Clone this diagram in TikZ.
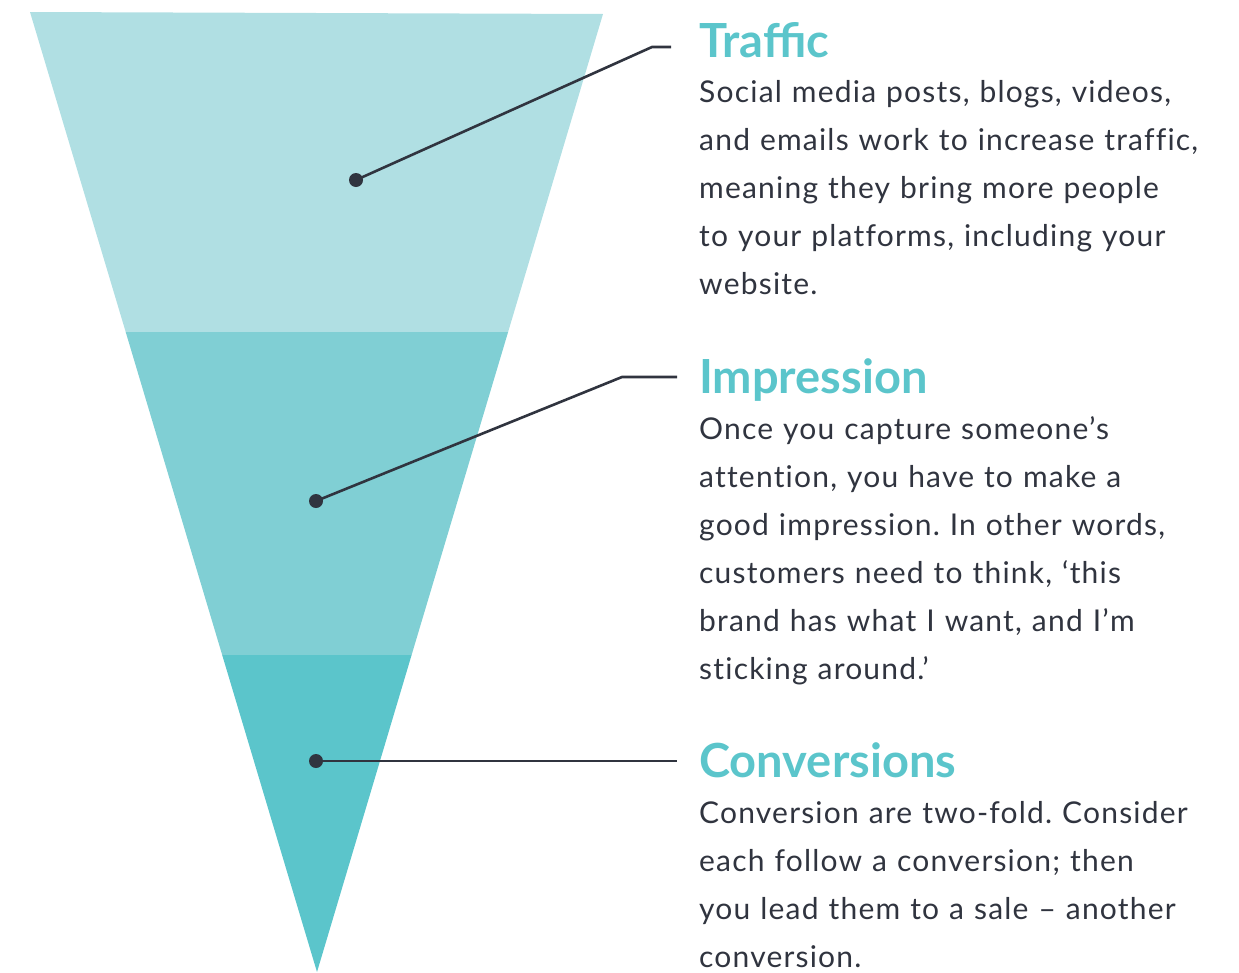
\documentclass[tikz,border=0pt]{standalone}
\usepackage{fontspec}
\setmainfont{Lato}
\newfontfamily\bodyfont{Lato}[LetterSpace=4, Ligatures=NoCommon]
\definecolor{bandtop}{HTML}{B0DFE3}
\definecolor{bandmid}{HTML}{80CFD4}
\definecolor{bandlow}{HTML}{5BC5CB}
\definecolor{headteal}{HTML}{5BC5CB}
\definecolor{inkdark}{HTML}{30343F}
\tikzset{
  heading/.style={anchor=base west, inner sep=0pt, text=headteal,
    font=\fontsize{47}{50}\selectfont\bfseries},
  bodytext/.style={anchor=base west, inner sep=0pt, text=inkdark,
    text width=560pt, align=left, font=\bodyfont\fontsize{30}{48}\selectfont\frenchspacing},
  leader/.style={draw=inkdark, line width=2.6pt},
  pin/.style={circle, fill=inkdark, inner sep=0pt, minimum size=14pt}
}
\begin{document}
\begin{tikzpicture}[x=1pt, y=-1pt]
\useasboundingbox (0,0) rectangle (1239,972);
% funnel bands
\fill[bandtop] (30,12) -- (603,14) -- (508.1,332) -- (125.7,332) -- cycle;
\fill[bandmid] (125.7,332) -- (508.1,332) -- (411.6,655) -- (222.2,655) -- cycle;
\fill[bandlow] (222.2,655) -- (411.6,655) -- (317,972) -- cycle;
% pins
\node[pin] (p1) at (356,180) {};
\node[pin] (p2) at (316,501) {};
\node[pin] (p3) at (316,761) {};
\coordinate (k1) at (652,47);  \coordinate (e1) at (671,47);
\coordinate (k2) at (622,377); \coordinate (e2) at (677,377);
\coordinate (e3) at (677,761);
\draw[leader] (p1.center) -- (k1) -- (e1);
\draw[leader] (p2.center) -- (k2) -- (e2);
\draw[leader] (p3.center) -- (e3);
% headings and descriptions
\node[heading] (h1) at (699,57) {Traffic};
\node[bodytext] (b1) at (699,102) {Social media posts, blogs, videos,\\
and emails work to increase traffic,\\
meaning they bring more people\\
to your platforms, including your\\
website.};
\node[heading] (h2) at (699,393) {Impression};
\node[bodytext] (b2) at (699,439) {Once you capture someone’s\\
attention, you have to make a\\
good impression. In other words,\\
customers need to think, ‘this\\
brand has what I want, and I’m\\
sticking around.’};
\node[heading] (h3) at (699,777) {Conversions};
\node[bodytext] (b3) at (699,823) {Conversion are two-fold. Consider\\
each follow a conversion; then\\
you lead them to a sale – another\\
conversion.};
\end{tikzpicture}
\end{document}
